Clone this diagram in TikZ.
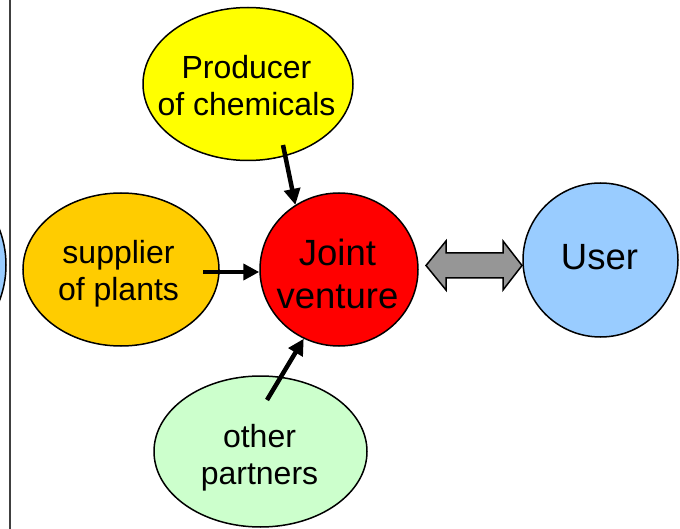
\documentclass[tikz,border=0pt]{standalone}
\usepackage{fontspec}
\setmainfont{Liberation Sans}
\usetikzlibrary{shapes.geometric,arrows.meta}
\definecolor{cyel}{RGB}{255,255,0}
\definecolor{corange}{RGB}{255,204,0}
\definecolor{cred}{RGB}{255,0,0}
\definecolor{cblue}{RGB}{153,204,255}
\definecolor{cgreen}{RGB}{204,255,204}
\definecolor{cgray}{RGB}{150,150,150}
\tikzset{
  blob/.style={ellipse, draw=black, line width=1.5pt, inner sep=0pt},
  txt/.style={align=center, inner sep=0pt, font=\fontsize{32}{37}\selectfont},
  bigtxt/.style={align=center, inner sep=0pt, font=\fontsize{36.5}{43}\selectfont},
  arr/.style={line width=4.5pt, -{Triangle[length=16pt,width=16pt]}},
}
\begin{document}
\begin{tikzpicture}[x=1pt,y=-1pt]
\useasboundingbox (0,0) rectangle (680,529);
\clip (0,0) rectangle (680,529);
\fill[white] (0,0) rectangle (680,529);
% left divider and partial circle
\node[blob, fill=cblue, minimum width=200pt, minimum height=200pt] (leftc) at (-94,265) {};
\draw[line width=1.5pt, black!75] (10,0) -- (10,529);
% blobs
\node[blob, fill=cyel, minimum width=210pt, minimum height=153pt] (prod) at (248,84) {};
\node[blob, fill=corange, minimum width=196pt, minimum height=153pt] (supp) at (121,269.5) {};
\node[blob, fill=cred, minimum width=158pt, minimum height=153pt] (jv) at (339,269.5) {};
\node[blob, fill=cblue, minimum width=155pt, minimum height=154pt] (user) at (600.5,260) {};
\node[blob, fill=cgreen, minimum width=213pt, minimum height=151pt] (other) at (260.5,451.5) {};
% texts
\node[txt] (prodtxt) at (246.5,85.5) {Producer\\of chemicals};
\node[txt] (supptxt) at (118.5,273.5) {supplier\\of plants};
\node[bigtxt] (jvtxt) at (337.5,273.5) {Joint\\venture};
\node[bigtxt] (usertxt) at (599.5,257.5) {User};
\node[txt] (othertxt) at (259.5,457.5) {other\\partners};
% arrows
\coordinate (p1) at (283,145);
\coordinate (s1) at (203,272);
\coordinate (o1) at (267,400);
\draw[arr] (p1) -- (jv.124);
\draw[arr] (s1) -- (s1 -| jv.west);
\draw[arr] (o1) -- (jv.-117);
% double arrow between joint venture and user
\draw[line width=1.5pt, fill=cgray, line join=miter]
  (426,265.5) -- (446,241) -- (446,253) -- (503,253) -- (503,241) -- (522,265.5)
  -- (503,290) -- (503,278) -- (446,278) -- (446,290) -- cycle;
\end{tikzpicture}
\end{document}
